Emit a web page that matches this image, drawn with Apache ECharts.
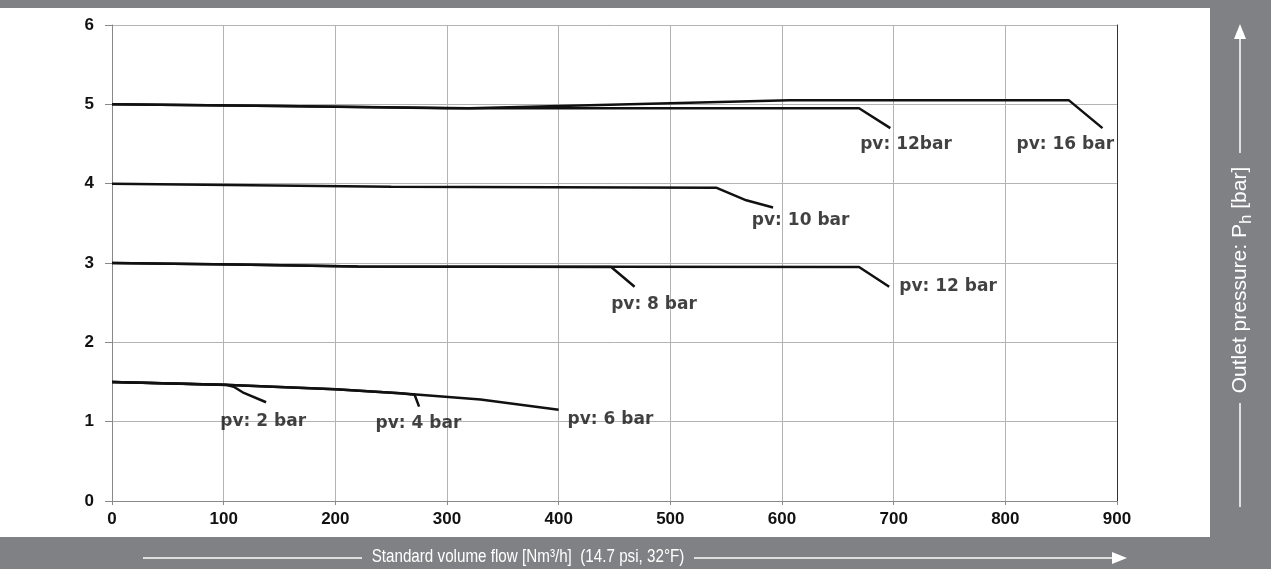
<!DOCTYPE html>
<html>
<head>
<meta charset="utf-8">
<script src="https://cdn.jsdelivr.net/npm/echarts@6/dist/echarts.min.js"></script>
<style>html,body{margin:0;padding:0;background:#808185;}#c{width:1271px;height:569px;}</style>
</head>
<body>
<div id="c"></div>
<script>
// Flow values (Nm3/h) and outlet pressures (bar)
const flow2 = [0, 103, 109, 117, 138];
const pres2 = [1.50, 1.462, 1.44, 1.37, 1.245];
const flow4 = [0, 100, 200, 258, 271, 275];
const pres4 = [1.50, 1.465, 1.41, 1.358, 1.34, 1.19];
const flow6 = [0, 100, 200, 258, 330, 400];
const pres6 = [1.50, 1.465, 1.41, 1.358, 1.28, 1.15];
const flow8 = [0, 110, 220, 447, 468];
const pres8 = [3.00, 2.98, 2.955, 2.95, 2.70];
const flow12a = [0, 110, 220, 669, 696];
const pres12a = [3.00, 2.98, 2.955, 2.95, 2.70];
const flow10 = [0, 250, 541, 568, 592];
const pres10 = [4.00, 3.96, 3.95, 3.79, 3.70];
const flow12b = [0, 150, 300, 669, 697];
const pres12b = [5.00, 4.98, 4.95, 4.95, 4.70];
const flow16 = [0, 150, 320, 607, 857, 887];
const pres16 = [5.00, 4.98, 4.95, 5.05, 5.05, 4.70];

const xTicks = [0, 100, 200, 300, 400, 500, 600, 700, 800, 900];
const yTicks = [0, 1, 2, 3, 4, 5, 6];

const labelX = [97, 236, 408, 447, 705, 573, 670, 810];
const labelY = [1.00, 0.98, 1.03, 2.47, 2.70, 3.53, 4.49, 4.49];
const labelText = ['pv: 2 bar', 'pv: 4 bar', 'pv: 6 bar', 'pv: 8 bar', 'pv: 12 bar', 'pv: 10 bar', 'pv: 12bar', 'pv: 16 bar'];

const xTitle = 'Standard volume flow [Nm³/h]  (14.7 psi, 32°F)';

function pairs(xs, ys) { return xs.map((x, i) => [x, ys[i]]); }
const curves = [[flow6, pres6], [flow4, pres4], [flow2, pres2], [flow8, pres8], [flow12a, pres12a], [flow10, pres10], [flow12b, pres12b], [flow16, pres16]];

const chart = echarts.init(document.getElementById('c'));
const lineSeries = curves.map(c => ({
  type: 'line', data: pairs(c[0], c[1]), showSymbol: false, symbol: 'none',
  lineStyle: { color: '#111', width: 2.5 }, animation: false, z: 3
}));

chart.setOption({
  backgroundColor: '#808185',
  animation: false,
  grid: { left: 112, right: 154, top: 25, bottom: 68, show: false },
  xAxis: {
    type: 'value', min: 0, max: 900, interval: 100,
    axisLine: { show: true, lineStyle: { color: '#888', width: 1 } },
    axisTick: { show: true, length: 4, lineStyle: { color: '#888' } },
    axisLabel: { color: '#111', fontFamily: 'Liberation Sans, Arial', fontWeight: 'bold', fontSize: 17, margin: 10,
      formatter: v => xTicks.includes(v) ? String(v) : '' },
    splitLine: { show: true, lineStyle: { color: '#b3b3b3', width: 1 } }
  },
  yAxis: [{
    type: 'value', min: 0, max: 6, interval: 1,
    axisLine: { show: true, lineStyle: { color: '#888', width: 1 } },
    axisTick: { show: true, length: 7, lineStyle: { color: '#888' } },
    axisLabel: { color: '#111', fontFamily: 'Liberation Sans, Arial', fontWeight: 'bold', fontSize: 17, margin: 18,
      formatter: v => yTicks.includes(v) ? String(v) : '' },
    splitLine: { show: true, lineStyle: { color: '#b3b3b3', width: 1 } }
  }, {
    type: 'value', min: 0, max: 6, interval: 1, position: 'right',
    axisLine: { show: true, lineStyle: { color: '#333', width: 1 } },
    axisTick: { show: false }, axisLabel: { show: false }, splitLine: { show: false }
  }],
  graphic: [
    { type: 'rect', z: -10, silent: true, shape: { x: 0, y: 8, width: 1210, height: 529 }, style: { fill: '#ffffff' } },
    { type: 'line', shape: { x1: 143, y1: 558, x2: 362, y2: 558 }, style: { stroke: '#ffffff', lineWidth: 1.5 } },
    { type: 'line', shape: { x1: 694, y1: 558, x2: 1118, y2: 558 }, style: { stroke: '#ffffff', lineWidth: 1.5 } },
    { type: 'polygon', shape: { points: [[1112, 552], [1127, 558], [1112, 564]] }, style: { fill: '#ffffff' } },
    { type: 'text', x: 528, y: 557, scaleX: 0.8,
      style: { text: xTitle, fill: '#ffffff', fontSize: 19, fontFamily: 'Liberation Sans, Arial', align: 'center', verticalAlign: 'middle' } },
    { type: 'line', shape: { x1: 1240, y1: 34, x2: 1240, y2: 153 }, style: { stroke: '#ffffff', lineWidth: 1.5 } },
    { type: 'polygon', shape: { points: [[1234, 39], [1240, 24], [1246, 39]] }, style: { fill: '#ffffff' } },
    { type: 'line', shape: { x1: 1240, y1: 403, x2: 1240, y2: 507 }, style: { stroke: '#ffffff', lineWidth: 1.5 } },
    { type: 'text', x: 1240, y: 280, rotation: Math.PI / 2,
      style: { text: 'Outlet pressure: P{s|h} [bar]', fill: '#ffffff', fontSize: 21, fontFamily: 'Liberation Sans, Arial', align: 'center', verticalAlign: 'middle',
        rich: { s: { fontSize: 17, fill: '#ffffff', fontFamily: 'Liberation Sans, Arial', padding: [12, 0, 0, 0] } } } }
  ],
  series: lineSeries.concat([{
    type: 'scatter', symbolSize: 0, z: 4, animation: false,
    data: labelX.map((x, i) => [x, labelY[i], labelText[i]]),
    label: { show: true, position: 'right', distance: 0, formatter: p => p.value[2],
      color: '#111', fontFamily: 'DejaVu Sans', fontWeight: 'bold', fontSize: 17 }
  }])
});
</script>
</body>
</html>
